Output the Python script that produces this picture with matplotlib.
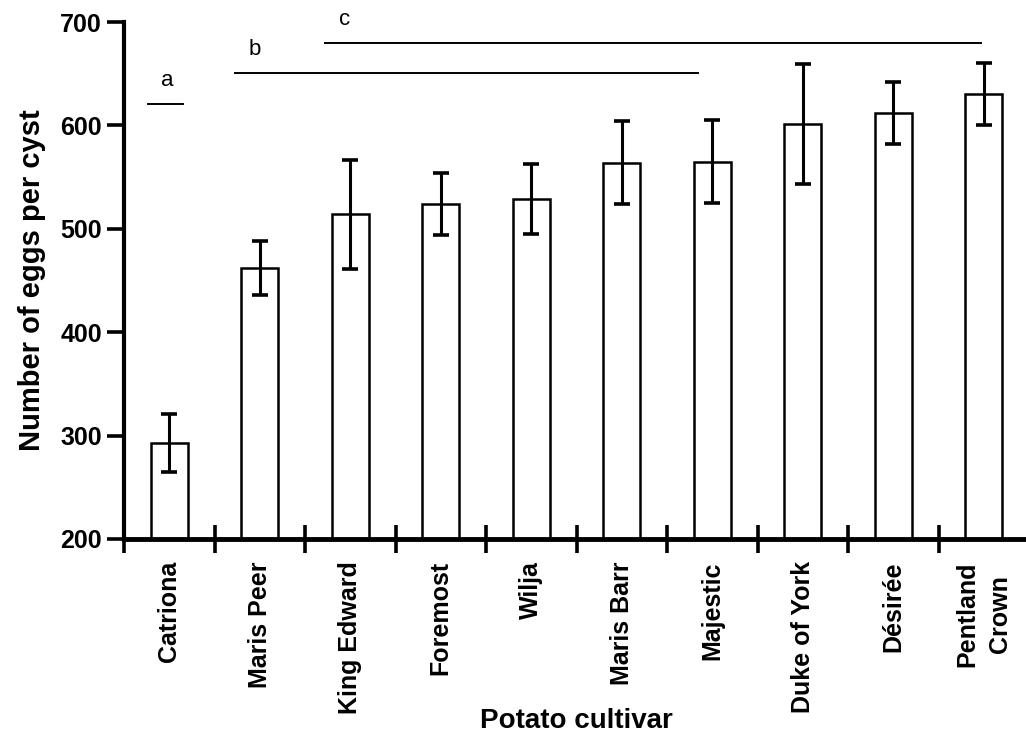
import matplotlib
matplotlib.use("Agg")
import matplotlib.pyplot as plt
import numpy as np

cultivars = ["Catriona", "Maris Peer", "King Edward", "Foremost", "Wilja",
             "Maris Barr", "Majestic", "Duke of York", "Désirée",
             "Pentland\nCrown"]
eggs = [293, 462, 514, 524, 529, 564, 565, 601, 612, 630]
err = [28, 26, 53, 30, 34, 40, 40, 58, 30, 30]

# homogeneous groups: letter, first/last category span, level
groups = ["a", "b", "c"]
group_from = [-0.24, 0.73, 1.72]
group_to = [0.15, 5.84, 8.97]
group_y = [621, 651, 680]

plt.rcParams["font.family"] = ["Liberation Sans", "DejaVu Sans"]
fig = plt.figure(figsize=(10.26, 7.36), dpi=100)
ax = fig.add_axes([124 / 1026, 197 / 736, 905 / 1026, 517 / 736])

x = np.arange(len(cultivars))
ax.bar(x, eggs, width=0.41, bottom=0, color="white", edgecolor="black",
       linewidth=1.8, zorder=2)
ax.errorbar(x, eggs, yerr=err, fmt="none", ecolor="black", elinewidth=2.2,
            capsize=6, capthick=2.6, zorder=3)

for g, x0, x1, yy in zip(groups, group_from, group_to, group_y):
    ax.plot([x0, x1], [yy, yy], color="black", lw=1.4, clip_on=False)
    ax.text(x0 + 0.22, yy + 22, g, fontsize=16, ha="center", va="center")

ax.set_xlim(-0.5, 9.5)
ax.set_ylim(200, 700)
ax.set_yticks([200, 300, 400, 500, 600, 700])
ax.set_xticks(x)
ax.set_xticklabels(cultivars, rotation=90, fontsize=18, fontweight="bold",
                   va="top", ha="center", linespacing=1.45,
                   multialignment="center")
ax.set_xticks(np.arange(-0.5, 10, 1), minor=True)
ax.tick_params(axis="x", which="major", length=0, pad=16)
ax.tick_params(axis="x", which="minor", direction="inout", length=20,
               width=2.6)
ax.tick_params(axis="y", direction="out", length=12, width=2.6,
               labelsize=18, pad=4)
for t in ax.get_yticklabels():
    t.set_fontweight("bold")

for s in ["top", "right"]:
    ax.spines[s].set_visible(False)
ax.spines["left"].set_linewidth(3)
ax.spines["bottom"].set_linewidth(3.5)

ax.set_ylabel("Number of eggs per cyst", fontsize=21, fontweight="bold",
              labelpad=10)
ax.set_xlabel("Potato cultivar", fontsize=20, fontweight="bold")
ax.xaxis.set_label_coords(0.5, -0.352)
ax.xaxis.label.set_va("center")

fig.savefig("out.png", dpi=100)
